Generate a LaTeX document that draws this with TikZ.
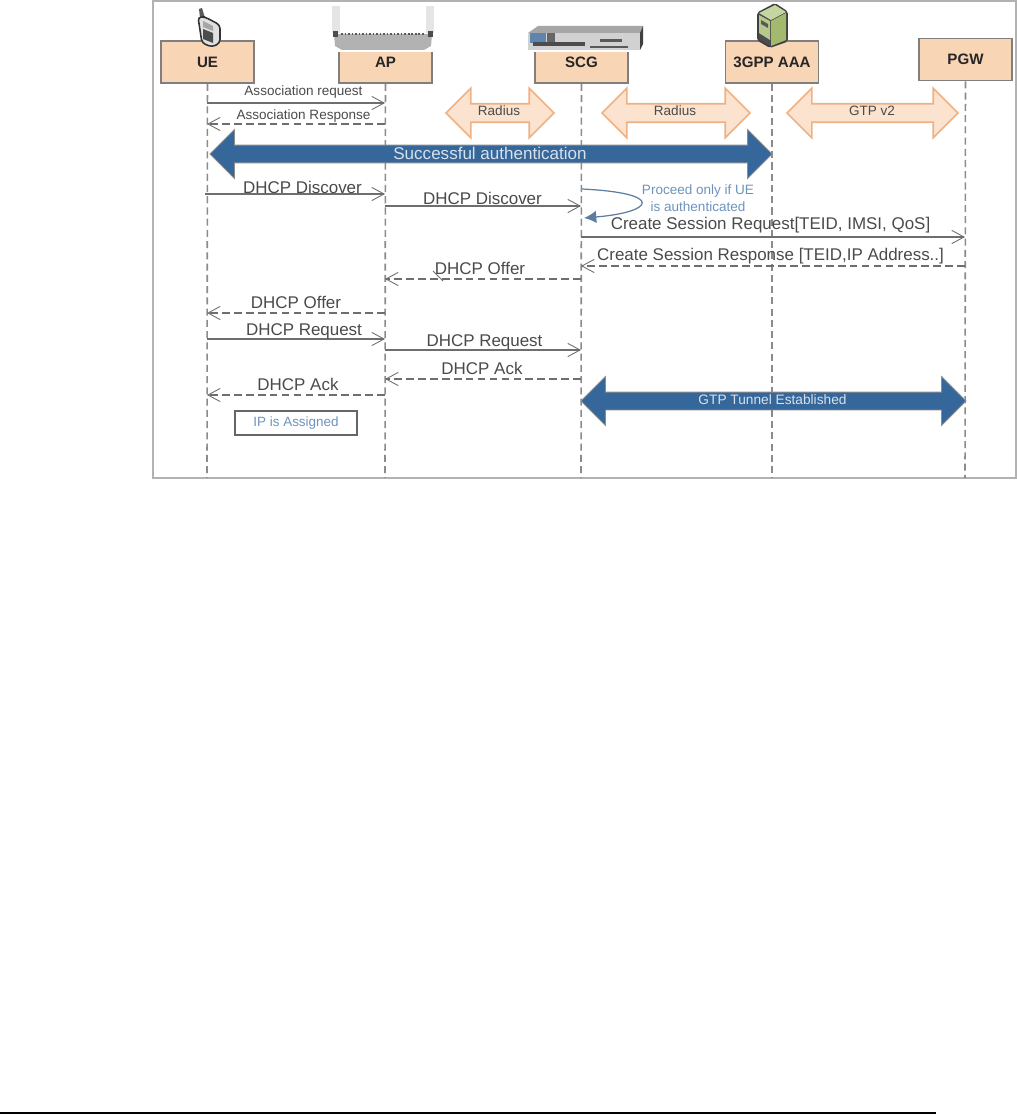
\documentclass[tikz,border=0pt]{standalone}
\usepackage{fontspec}
\setmainfont{Liberation Sans}
\usetikzlibrary{arrows.meta,positioning,shapes.arrows}
\definecolor{boxfill}{HTML}{F8D5B5}
\definecolor{boxline}{HTML}{7F7F7F}
\definecolor{radfill}{HTML}{FBE3CF}
\definecolor{radline}{HTML}{EFB183}
\definecolor{bluefill}{HTML}{35679A}
\definecolor{bluetext}{HTML}{6C93BC}
\definecolor{msgline}{HTML}{6E6E6E}
\definecolor{msgtext}{HTML}{4A4A4A}
\definecolor{srvtop}{HTML}{C5D6A0}
\definecolor{srvside}{HTML}{A3BA6E}
\definecolor{srvfront}{HTML}{B4C98A}
\tikzset{
  entity/.style={draw=boxline, line width=0.9pt, fill=boxfill, minimum width=1.86cm, minimum height=0.84cm, inner sep=0pt, font=\fontsize{8.6}{11}\selectfont\bfseries, text=black!85},
  lifeline/.style={draw=msgline!80, line width=0.9pt, dash pattern=on 4pt off 2.4pt},
  msg/.style={draw=msgline, line width=0.7pt, -{Straight Barb[length=7pt,width=7.5pt,line width=0.5pt]}},
  reply/.style={msg, dash pattern=on 4.4pt off 2.4pt},
  msglabel/.style={text=msgtext, font=\fontsize{9.65}{12}\selectfont, inner sep=0pt},
  smalllabel/.style={text=msgtext, font=\fontsize{7.7}{10}\selectfont, inner sep=0pt},
  bigarrow/.style={double arrow, double arrow tip angle=90, double arrow head extend=0.31cm, inner sep=0pt, text height=0.34cm, text depth=0pt, text width=0pt, minimum height=#1},
  radarrow/.style={bigarrow=#1, draw=radline, line width=0.9pt, fill=radfill},
  bluearrow/.style={bigarrow=#1, draw=black!45, line width=0.5pt, fill=bluefill},
}
\begin{document}
\begin{tikzpicture}[x=0.02cm,y=-0.02cm]
\useasboundingbox (0,0) rectangle (1017,1115);
\draw[black!30, line width=0.8pt] (153,1) rectangle (1016,478);
\draw[black, line width=0.6pt] (0,1113) -- (936,1113);
% entities
\node[entity] (ue) at (207.5,62) {UE};
\node[entity] (ap) at (385.5,62) {AP};
\node[entity] (scg) at (581.5,62) {SCG};
\node[entity] (aaa) at (772,62) {3GPP AAA};
\node[entity] (pgw) at (965.5,59.5) {PGW};
% lifelines
\foreach \name/\xpos in {ue/207,ap/385,scg/581,aaa/772,pgw/965}{
  \coordinate (\name end) at (\xpos,478);
  \draw[lifeline] (\name) -- (\name end);
}
% phone
\fill[black!65] (199,9) -- (202,8) -- (205,18) -- (200,18) -- cycle;
\filldraw[draw=black!80, fill=black!12, line width=0.9pt, rounded corners=2pt] (198,17) -- (205,17) -- (220,25) -- (220,43) -- (212,47) -- (202,43) -- cycle;
\fill[black!70] (203,29) -- (213,33) -- (213,43) -- (203,39) -- cycle;
\fill[black!35] (203,21) -- (213,26) -- (213,31) -- (203,27) -- cycle;
% access point
\fill[white] (332,5) rectangle (437,52);
\fill[black!10] (332,6) rectangle (340,33);
\fill[black!10] (426,6) rectangle (434,33);
\fill[black!30] (334,34) -- (432,34) -- (431,46) -- (424,50) -- (342,50) -- (335,46) -- cycle;
\draw[black!65, line width=1.2pt, dash pattern=on 1pt off 1pt] (341,34) -- (424,34);
\fill[black!70] (333,31) rectangle (338,37);
\fill[black!70] (428,31) rectangle (433,37);
% router
\fill[white] (527,25) rectangle (651,52);
\fill[black!35] (528,33) -- (538,26) -- (643,26) -- (640,33) -- cycle;
\fill[black!75] (640,33) -- (643,26) -- (643,44) -- (640,50) -- cycle;
\fill[black!18] (528,33) rectangle (640,50);
\fill[bluefill!80] (530,33) rectangle (546,43);
\fill[black!60] (547,33) rectangle (555,43);
\fill[black!70] (533,42) rectangle (585,46);
\fill[black!65] (600,39) rectangle (622,42);
\fill[black!65] (590,46) rectangle (628,48);
% server
\filldraw[draw=black!75, fill=black!70, line width=1pt, rounded corners=1pt] (775,4) -- (787,12) -- (787,41) -- (770,47) -- (758,40) -- (758,13) -- cycle;
\fill[srvtop] (775,5) -- (786,12) -- (771,20) -- (759,13) -- cycle;
\fill[srvside] (771,21) -- (786,13) -- (786,40) -- (771,46) -- cycle;
\fill[srvfront] (759,15) -- (770,21) -- (770,40) -- (759,33) -- cycle;
\fill[black!65] (761,20) -- (768,24) -- (768,28) -- (761,24) -- cycle;
% interfaces
\node[radarrow=2.16cm] (rad1) at (500,113) {};
\node[smalllabel] (rad1txt) at (499,111) {Radius};
\node[radarrow=2.96cm] (rad2) at (676,113) {};
\node[smalllabel] (rad2txt) at (675,111) {Radius};
\node[radarrow=3.42cm] (gtp) at (872.5,113) {};
\node[smalllabel] (gtptxt) at (872,111) {GTP v2};
% blue bands
\node[bluearrow=11.24cm] (auth) at (491,154) {};
\node[text=white!80!bluefill, font=\fontsize{9.7}{12}\selectfont, inner sep=0pt] (authtxt) at (490,153) {Successful authentication};
\node[bluearrow=7.7cm] (tunnel) at (773.5,401) {};
\node[text=white!80!bluefill, font=\fontsize{7.8}{9}\selectfont, inner sep=0pt] (tunneltxt) at (772.5,400) {GTP Tunnel Established};
% messages
\foreach \name/\xpos/\ypos in {a/207/103,b/385/103,c/385/124,d/207/124,e/205/194,f/385/194,g/385/206,h/581/206,i/581/237,j/965/237,k/965/266,l/581/266,m/581/279,n/385/279,o/385/313,p/207/313,q/207/339,r/385/339,s/385/350,t/581/350,u/581/379,v/385/379,w/385/395,x/207/395}{
  \coordinate (\name) at (\xpos,\ypos);
}
\draw[msg] (a) -- (b);
\node[smalllabel] (l1) at (303.5,92) {Association request};
\draw[reply] (c) -- (d);
\node[smalllabel] (l2) at (303.5,116) {Association Response};
\draw[msg] (e) -- (f);
\node[msglabel] (l3) at (302.5,187) {DHCP Discover};
\draw[msg] (g) -- (h);
\node[msglabel] (l4) at (482.5,198) {DHCP Discover};
\draw[msg] (i) -- (j);
\node[msglabel] (l5) at (770.5,225) {Create Session Request[TEID, IMSI, QoS]};
\draw[reply] (k) -- (l);
\node[msglabel] (l6) at (770.5,256) {Create Session Response [TEID,IP Address..]};
\draw[reply] (m) -- (n);
\node[msglabel] (l7) at (480,268) {DHCP Offer};
\coordinate (ticka) at (433,271);
\coordinate (tickb) at (443,281);
\draw[msgline, line width=0.5pt] (ticka) -- (tickb);
\draw[reply] (o) -- (p);
\node[msglabel] (l8) at (296,302) {DHCP Offer};
\draw[msg] (q) -- (r);
\node[msglabel] (l9) at (304,331) {DHCP Request};
\draw[msg] (s) -- (t);
\node[msglabel] (l10) at (484.5,342) {DHCP Request};
\draw[reply] (u) -- (v);
\node[msglabel] (l11) at (482,368) {DHCP Ack};
\draw[reply] (w) -- (x);
\node[msglabel] (l12) at (298,384) {DHCP Ack};
% note on SCG
\coordinate (selfa) at (582,189);
\coordinate (selfb) at (584,218);
\draw[bluetext!85!black, line width=0.7pt, -{Latex[length=7pt,width=7pt]}] (selfa) .. controls (665,193) and (655,212) .. (selfb);
\node[text=bluetext, font=\fontsize{7.7}{9.5}\selectfont, align=center, inner sep=0pt] (proceed) at (698,198) {Proceed only if UE\\is authenticated};
% ip box
\node[draw=black!60, line width=0.8pt, minimum width=2.44cm, minimum height=0.48cm, text=bluetext, font=\fontsize{7.65}{10}\selectfont, inner sep=0pt] (ipbox) at (296,423) {IP is Assigned};
\end{tikzpicture}
\end{document}
